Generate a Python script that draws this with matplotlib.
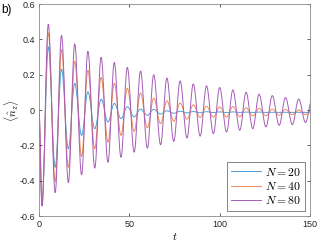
import numpy as np
import matplotlib
matplotlib.use("Agg")
import matplotlib.pyplot as plt
from matplotlib.path import Path
from matplotlib.patches import PathPatch
from matplotlib.lines import Line2D

plt.rcParams['font.family'] = ['Liberation Sans', 'DejaVu Sans']
plt.rcParams['mathtext.fontset'] = 'cm'
plt.rcParams['axes.unicode_minus'] = False

# times of the minima / maxima
t_trough = [1.7, 9.0, 16.3, 23.6, 30.9, 38.2, 45.4, 52.7, 60.0, 67.3, 74.6,
            81.9, 89.2, 96.5, 103.8, 111.1, 118.3, 125.6, 132.9, 140.2, 147.5]
t_peak = [5.2, 12.5, 19.8, 27.1, 34.4, 41.7, 48.9, 56.2, 63.5, 70.8, 78.1,
          85.4, 92.7, 100.0, 107.3, 114.6, 121.8, 129.1, 136.4, 143.7, 151.0]

# N = 20
n20_trough = [-0.520, -0.324, -0.219, -0.143, -0.105, -0.067, -0.048, -0.038, -0.029, -0.022, -0.018,
              -0.016, -0.015, -0.014, -0.014, -0.013, -0.013, -0.013, -0.013, -0.013, -0.013]
n20_peak = [0.358, 0.232, 0.152, 0.103, 0.061, 0.038, 0.019, 0.006, 0.004, -0.004, -0.006,
            -0.008, -0.009, -0.010, -0.010, -0.011, -0.011, -0.012, -0.012, -0.012, -0.012]
# N = 40
n40_trough = [-0.535, -0.404, -0.324, -0.262, -0.219, -0.181, -0.143, -0.120, -0.100, -0.076, -0.063,
              -0.051, -0.042, -0.040, -0.040, -0.037, -0.033, -0.032, -0.029, -0.026, -0.025]
n40_peak = [0.438, 0.343, 0.276, 0.225, 0.185, 0.152, 0.124, 0.097, 0.068, 0.053, 0.040,
            0.030, 0.022, 0.018, 0.020, 0.013, 0.010, 0.006, 0.004, 0.001, 0.000]
# N = 80
n80_trough = [-0.543, -0.467, -0.410, -0.366, -0.328, -0.295, -0.267, -0.238, -0.215, -0.196, -0.177,
              -0.158, -0.147, -0.133, -0.124, -0.114, -0.105, -0.095, -0.086, -0.082, -0.070]
n80_peak = [0.486, 0.423, 0.375, 0.333, 0.299, 0.270, 0.242, 0.221, 0.200, 0.181, 0.165,
            0.148, 0.137, 0.128, 0.114, 0.101, 0.090, 0.082, 0.071, 0.063, 0.058]

labels = ['$N = 20$', '$N = 40$', '$N = 80$']
colors = ['#4a9fdc', '#ee8a5a', '#a65cb8']


def merge(tr, pk):
    t = [0.0]
    v = [0.0]
    for i in range(len(t_trough)):
        t += [t_trough[i], t_peak[i]]
        v += [tr[i], pk[i]]
    return t, v


def smooth_path(t, v):
    # cubic segments with flat tangents at each extremum
    verts = [(t[0], v[0])]
    codes = [Path.MOVETO]
    for i in range(len(t) - 1):
        d = (t[i + 1] - t[i]) * 0.363
        verts += [(t[i] + d, v[i]), (t[i + 1] - d, v[i + 1]), (t[i + 1], v[i + 1])]
        codes += [Path.CURVE4] * 3
    return Path(verts, codes)


fig = plt.figure(figsize=(3.19, 2.45), dpi=100)
ax = fig.add_axes([0.122, 0.118, 0.85, 0.865])

for (tr, pk), c in zip([(n20_trough, n20_peak), (n40_trough, n40_peak), (n80_trough, n80_peak)], colors):
    t, v = merge(tr, pk)
    ax.add_patch(PathPatch(smooth_path(t, v), fill=False, edgecolor=c, lw=0.7))

ax.set_xlim(0, 150)
ax.set_ylim(-0.6, 0.6)
ax.set_xticks([0, 50, 100, 150])
ax.set_yticks([-0.6, -0.4, -0.2, 0, 0.2, 0.4, 0.6])
ax.set_yticklabels(['-0.6', '-0.4', '-0.2', '0', '0.2', '0.4', '0.6'])
ax.tick_params(direction='in', length=2.5, width=0.5, labelsize=6.5, colors='0.15',
               top=True, right=True, pad=3)
for s in ax.spines.values():
    s.set_color('0.55')
    s.set_linewidth(0.6)

ax.set_xlabel('$t$', fontsize=8, labelpad=1)
ax.set_ylabel(r'$\langle \hat{n}_z \rangle$', fontsize=8)
ax.yaxis.set_label_coords(-0.065, 0.5)
fig.text(0.003, 0.985, 'b)', fontsize=8.5, va='top', ha='left')

handles = [Line2D([], [], color=c, lw=0.7) for c in colors]
leg = ax.legend(handles, labels, loc='lower right', fontsize=8.5, frameon=True, fancybox=False,
                handlelength=2.6, borderaxespad=0.4, labelspacing=0.2, borderpad=0.35,
                handletextpad=0.3)
leg.get_frame().set_edgecolor('0.3')
leg.get_frame().set_linewidth(0.6)

fig.savefig('out.png', dpi=100)
